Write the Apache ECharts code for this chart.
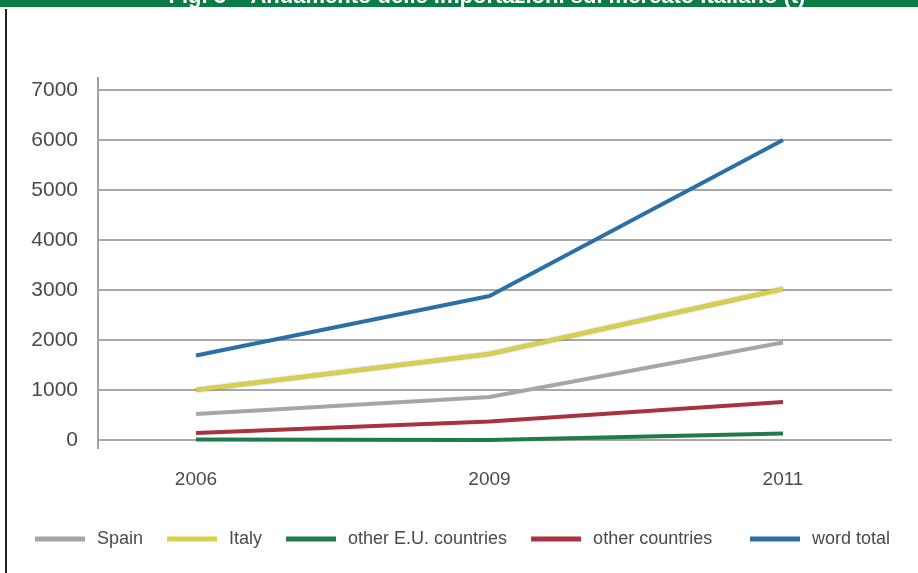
<!DOCTYPE html>
<html><head><meta charset="utf-8">
<script src="https://cdn.jsdelivr.net/npm/echarts@6/dist/echarts.min.js"></script>
<style>html,body{margin:0;padding:0;background:#fff}#c{width:918px;height:573px}</style>
</head><body><div id="c"></div>
<script>
const categories = ['2006', '2009', '2011'];
const spain = [520, 860, 1950];
const italy = [1000, 1720, 3020];
const otherEU = [10, 0, 130];
const otherCountries = [140, 370, 760];
const wordTotal = [1690, 2880, 6000];
const yTicks = [0, 1000, 2000, 3000, 4000, 5000, 6000, 7000];
const titleText = 'Fig. 3 – Andamento delle importazioni sul mercato italiano (t)';

const chart = echarts.init(document.getElementById('c'));
const font = 'Liberation Sans, Arial, sans-serif';
const yMin = yTicks[0], yMax = yTicks[yTicks.length - 1], yStep = yTicks[1] - yTicks[0];

function line(name, data, color, extra) {
  return Object.assign({
    name, type: 'line', data, xAxisIndex: 1, yAxisIndex: 1,
    symbol: 'none', smooth: false,
    lineStyle: { color, width: 4 },
    itemStyle: { color }
  }, extra || {});
}
const legendBase = {
  bottom: 20, itemWidth: 50, itemHeight: 5, itemGap: 24, icon: 'rect',
  textStyle: { color: '#4a4a4a', fontSize: 18, fontFamily: font, padding: [0, 0, 0, 7] }
};

chart.setOption({
  animation: false,
  backgroundColor: '#fff',
  grid: [
    { left: 98, right: 26, top: 90, bottom: 133 },
    { left: 196, right: 135, top: 90, bottom: 133 }
  ],
  xAxis: [
    { gridIndex: 0, type: 'category', data: categories, show: false },
    { gridIndex: 1, type: 'category', data: categories, boundaryGap: false,
      axisLine: { show: false }, axisTick: { show: false },
      axisLabel: { margin: 30, color: '#4a4a4a', fontSize: 19, fontFamily: font } }
  ],
  yAxis: [
    { gridIndex: 0, type: 'value', min: yMin, max: yMax, interval: yStep,
      axisLine: { show: false }, axisTick: { show: false },
      axisLabel: { margin: 20, color: '#4a4a4a', fontSize: 21, fontFamily: font, formatter: v => String(v) },
      splitLine: { lineStyle: { color: '#a8a8a8', width: 2 } } },
    { gridIndex: 1, type: 'value', min: yMin, max: yMax, interval: yStep, show: false,
      splitLine: { show: false } }
  ],
  legend: [
    Object.assign({ left: 30, data: ['Spain', 'Italy', 'other E.U. countries', 'other countries'] }, legendBase),
    Object.assign({ left: 745, data: ['word total'] }, legendBase)
  ],
  series: [
    line('Spain', spain, '#a6a6a6'),
    line('Italy', italy, '#d8d04a', { lineStyle: { color: '#d8d04a', width: 4, shadowColor: 'rgba(90,90,20,0.7)', shadowBlur: 2 } }),
    line('other E.U. countries', otherEU, '#1f7a4c'),
    line('other countries', otherCountries, '#a8323f'),
    line('word total', wordTotal, '#2b6fa8')
  ],
  graphic: [
    { type: 'rect', shape: { x: 0, y: 0, width: 918, height: 7 }, style: { fill: '#0b7c46' }, z: 10 },
    { type: 'text', x: 487, y: 8, z: 11,
      style: { text: titleText, fill: '#fff', font: 'bold 22px ' + font, textAlign: 'center', textVerticalAlign: 'bottom' } },
    { type: 'rect', shape: { x: 5, y: 9, width: 2, height: 564 }, style: { fill: '#222' }, z: 10 },
    { type: 'line', shape: { x1: 98, y1: 77, x2: 98, y2: 449 }, style: { stroke: '#a0a0a0', lineWidth: 2 }, z: 10 }
  ]
});
</script></body></html>
